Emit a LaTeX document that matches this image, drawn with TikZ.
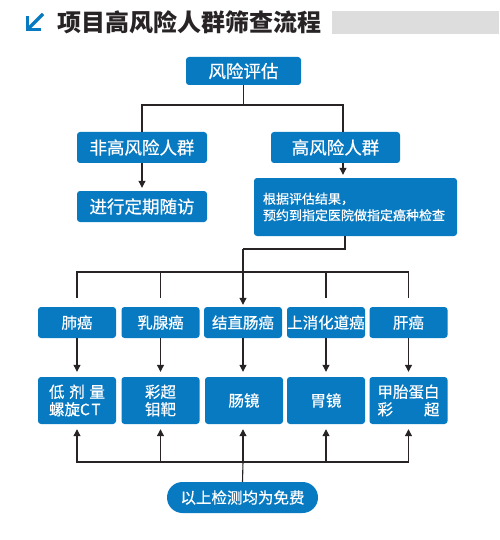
\documentclass[tikz,border=0pt]{standalone}
\usepackage{fontspec}
\setmainfont{Noto Sans CJK SC}
\newfontfamily\medfont{Noto Sans CJK SC}[FakeBold=0.6]
\usetikzlibrary{arrows.meta}
\definecolor{boxblue}{RGB}{8,122,193}
\definecolor{linegray}{RGB}{40,36,37}
\definecolor{bargray}{RGB}{221,221,221}
\tikzset{
  bbox/.style={fill=boxblue, rounded corners=3pt, text=white, font=\medfont\fontsize{17.5}{20}\selectfont, inner sep=0pt, align=center},
  cbox/.style={bbox, minimum width=78pt, font=\medfont\fontsize{15.5}{17.5}\selectfont},
  conn/.style={draw=linegray, line width=1.1pt},
  arr/.style={conn, -{Triangle[length=7pt,width=7pt]}},
}
\begin{document}
\begin{tikzpicture}[x=1pt,y=-1pt]
\useasboundingbox (0,0) rectangle (499,540);
% title
\draw[boxblue, line width=3.2pt] (27.5,16) -- (27.5,29.5) -- (41,29.5);
\draw[boxblue, line width=3.2pt] (29,28) -- (43,14);
\node[anchor=west, text=linegray, font=\fontsize{24}{26}\selectfont\bfseries, inner sep=0pt] (title) at (57,22) {项目高风险人群筛查流程};
\fill[bargray] (332,11) rectangle (499,34);
% top nodes
\node[bbox, minimum width=115pt, minimum height=28pt] (risk) at (243.5,71) {风险评估};
\node[bbox, minimum width=130pt, minimum height=31pt] (nonhigh) at (142,147.5) {非高风险人群};
\node[bbox, minimum width=129pt, minimum height=31pt] (high) at (335.5,147.5) {高风险人群};
\node[bbox, minimum width=130pt, minimum height=31pt] (follow) at (142,206.5) {进行定期随访};
\node[bbox, minimum width=203pt, minimum height=58pt, align=left, text width=185pt, font=\medfont\fontsize{13}{16.5}\selectfont] (detail) at (355.5,207) {根据评估结果，\\预约到指定医院做指定癌种检查};
% cancer row
\node[cbox, minimum height=31pt] (c1) at (77,322.5) {肺癌};
\node[cbox, minimum height=31pt] (c2) at (160.5,322.5) {乳腺癌};
\node[cbox, minimum height=31pt] (c3) at (243,322.5) {结直肠癌};
\node[cbox, minimum height=31pt] (c4) at (326,322.5) {\makebox[70pt]{上消化道癌}};
\node[cbox, minimum height=31pt] (c5) at (408.5,322.5) {肝癌};
% test row
\node[cbox, minimum height=47pt] (t1) at (77,400.5) {\makebox[56pt][s]{低\hfil 剂\hfil 量}\\\makebox[56pt][s]{螺旋C\hskip1.5pt T}};
\node[cbox, minimum height=47pt] (t2) at (160.5,400.5) {彩超\\钼靶};
\node[cbox, minimum height=47pt] (t3) at (244,400.5) {肠镜};
\node[cbox, minimum height=47pt] (t4) at (326,400.5) {胃镜};
\node[cbox, minimum height=47pt] (t5) at (408.5,400.5) {甲胎蛋白\\\makebox[62pt][s]{彩\hfil 超}};
% pill
\node[bbox, minimum width=151pt, minimum height=31pt, rounded corners=15.5pt, font=\medfont\fontsize{15.5}{17}\selectfont] (pill) at (242.5,497.5) {以上检测均为免费};
% junctions
\coordinate (j1) at (243.5,105);
\coordinate (j2) at (243,249);
\coordinate (j3) at (243,272);
\coordinate (j4) at (243,462);
\coordinate (hs) at ([xshift=7.5pt]high.south);
\coordinate (hn) at ([xshift=7.5pt]high.north);
\coordinate (ds) at ([xshift=-10.5pt]detail.south);
% connectors
\draw[conn] (risk.south) -- (j1);
\draw[conn] (nonhigh.north) |- (j1) -| (hn);
\draw[arr, shorten >=3pt] (nonhigh.south) -- (follow.north);
\draw[arr, shorten >=3pt] (hs) -- (hs |- detail.north);
\draw[conn] (ds) |- (j2);
\draw[arr, shorten >=2pt] (j2) -- (c3.north);
\draw[conn, shorten <=9pt] (c1.north) |- (j3);
\draw[conn, shorten <=9pt] (c2.north) |- (j3);
\draw[conn, shorten <=9pt] (c4.north) |- (j3);
\draw[conn, shorten <=9pt] (c5.north) |- (j3);
\foreach \i in {1,...,5} {
  \draw[arr, shorten >=5pt] (c\i.south) -- (t\i.north -| c\i.south);
}
\draw[conn] (pill.north) -- (j4);
\draw[arr, shorten >=5pt] (j4) -| (t1.south);
\draw[arr, shorten >=5pt] (j4) -| (t2.south);
\draw[arr, shorten >=5pt] (j4) -- (j4 |- t3.south);
\draw[arr, shorten >=5pt] (j4) -| (t4.south);
\draw[arr, shorten >=5pt] (j4) -| (t5.south);
\end{tikzpicture}
\end{document}
